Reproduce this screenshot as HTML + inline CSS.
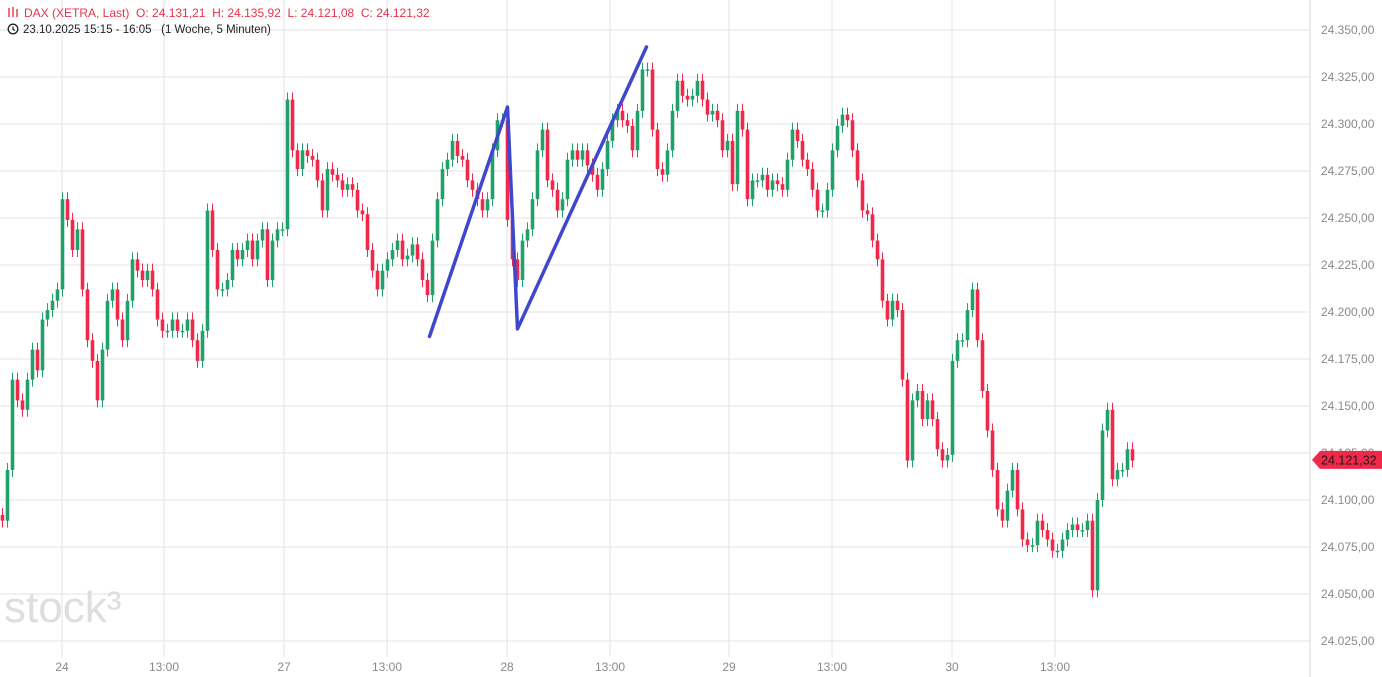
<!DOCTYPE html>
<html><head><meta charset="utf-8"><style>
body{margin:0;background:#fff;font-family:"Liberation Sans",sans-serif;}
svg{display:block}
text{white-space:pre}
</style></head><body>
<svg id="chart" width="1382" height="677" viewBox="0 0 1382 677" xmlns="http://www.w3.org/2000/svg">
<g id="grid"></g>
<text x="4" y="622" font-size="44" fill="#dedede" font-family="Liberation Sans, sans-serif">stock³</text>
<g id="candles"></g>
<g id="drawing"></g>
<line x1="1310" y1="0" x2="1310" y2="677" stroke="#d8d8e0"/>
<g id="yaxis"></g>
<g id="xaxis"></g>
<g>
<g stroke="#e8334a" stroke-width="1.4"><line x1="9" y1="8" x2="9" y2="17"/><line x1="13" y1="7" x2="13" y2="17"/><line x1="17" y1="9" x2="17" y2="17"/></g>
<text x="24" y="17" font-size="12" fill="#e8334a" xml:space="preserve">DAX (XETRA, Last)  O: 24.131,21  H: 24.135,92  L: 24.121,08  C: 24.121,32</text>
<circle cx="13" cy="29" r="4.8" fill="none" stroke="#222" stroke-width="1.3"/>
<path d="M13 26.5V29.3L15 30.5" fill="none" stroke="#222" stroke-width="1.2"/>
<text x="23" y="33" font-size="11.5" fill="#222" xml:space="preserve">23.10.2025 15:15 - 16:05   (1 Woche, 5 Minuten)</text>
</g>
<g>
<polygon id="tagpoly" fill="#f0284a"/>
<text id="tagtext" x="1321" font-size="12.5" fill="#1a1a1a"></text>
</g>
</svg>
<script>
const closes=[24089,24116,24164,24153,24148,24164,24180,24169,24196,24201,24206,24212,24260,24249,24233,24244,24212,24185,24174,24153,24180,24206,24212,24196,24185,24206,24228,24222,24217,24222,24212,24196,24190,24190,24196,24190,24190,24196,24185,24174,24190,24254,24233,24212,24212,24217,24233,24228,24233,24238,24228,24238,24244,24217,24238,24244,24244,
24313,24286,24276,24286,24283,24281,24270,24254,24276,24273,24270,24265,24268,24265,24254,24252,24233,24222,24212,24222,24228,24233,24238,24228,24230,24236,24228,24217,24209,24238,24260,24276,24281,24291,24283,24281,24270,24265,24260,24254,24260,24286,24302,24302,24249,24228,24217,24238,24244,24260,24286,24297,24270,24265,24254,24260,24281,24286,24281,24286,24278,24273,24265,24276,24291,24302,24307,24302,24299,24286,24307,24329,24329,24297,24276,24273,24286,24307,24323,24315,24313,24315,24323,24313,24305,24307,24302,24286,24291,24268,24307,24297,24260,24270,24270,24273,24265,24270,24268,24265,24281,24297,24291,24281,24276,24265,24254,24254,24265,24286,24299,24305,24302,24286,24270,24254,24252,24238,24228,24206,24196,24206,24201,24164,24121,24153,24158,24143,24153,24143,24127,24121,24124,24174,24185,24185,24201,24212,24185,24158,24137,24116,24095,24089,24105,24116,24095,24079,24076,24076,24089,24084,24079,24073,24073,24079,24084,24087,24084,24084,24089,24052,24100,24137,24148,24111,24116,24116,24127,24121];
const xTickLabels=["24","13:00","27","13:00","28","13:00","29","13:00","30","13:00"];
const xTickIdx=[12.4,32.8,56.8,77.4,101.4,122,145.8,166.4,190.4,211];
const yTicks=[24350,24325,24300,24275,24250,24225,24200,24175,24150,24125,24100,24075,24050,24025];
const drawIdx=[85.4,101,103,128.8];
const drawPrices=[24187,24309,24191,24341];
const lastPrice=24121.32;

const NS="http://www.w3.org/2000/svg";
const X=i=>i*5+2.5;
const Y=v=>30+(24350-v)/25*47;
function mk(tag,attrs,parent){const e=document.createElementNS(NS,tag);for(const k in attrs)e.setAttribute(k,attrs[k]);parent.appendChild(e);return e;}
const fmt=v=>{const [a,b]=v.toFixed(2).split('.');return a.slice(0,2)+'.'+a.slice(2)+','+b;};

const grid=document.getElementById('grid'),ya=document.getElementById('yaxis'),xa=document.getElementById('xaxis');
yTicks.forEach(v=>{
 const g=mk('line',{x1:0,x2:1310,y1:Y(v),y2:Y(v),stroke:'#e3e3ea'},grid);
 
 
 const t=mk('text',{x:1321,y:Y(v)+4,'font-size':12,fill:'#8a8a8a'},ya);
 
 
 t.textContent=fmt(v);
});
xTickIdx.forEach((i,k)=>{
 const x=X(i)-2.5;
 const g=mk('line',{x1:x,x2:x,y1:0,y2:657,stroke:'#e3e3ea'},grid);
 
 
 const t=mk('text',{x:x,y:671,'font-size':12,fill:'#8a8a8a','text-anchor':'middle'},xa);
 
 
 t.textContent=xTickLabels[k];
});
const cg=document.getElementById('candles');
closes.forEach((c,i)=>{
 const o=i?closes[i-1]:c+3;
 const up=c>=o, col=up?'#22a06b':'#f0284a';
 const top=Y(Math.max(o,c)),bot=Y(Math.min(o,c));
 const w=mk('line',{x1:X(i),x2:X(i),y1:top-7,y2:bot+7,stroke:col,'stroke-width':1},cg);
 
 
 const r=mk('rect',{x:X(i)-1.8,y:top,width:3.6,height:Math.max(1.5,bot-top),fill:col},cg);
 
 
});
const dg=document.getElementById('drawing');
const pts=drawIdx.map((i,k)=>X(i)+','+Y(drawPrices[k])).join(' ');
const pl=mk('polyline',{points:pts,fill:'none',stroke:'#3f48cc','stroke-width':3.5,'stroke-linejoin':'round','stroke-linecap':'round'},dg);


const ly=Y(lastPrice);
document.getElementById('tagpoly').setAttribute('points',`1312,${ly} 1320,${ly-9} 1382,${ly-9} 1382,${ly+9} 1320,${ly+9}`);
const tt=document.getElementById('tagtext');tt.setAttribute('y',ly+4.5);tt.textContent=fmt(lastPrice);
</script>
</body></html>
